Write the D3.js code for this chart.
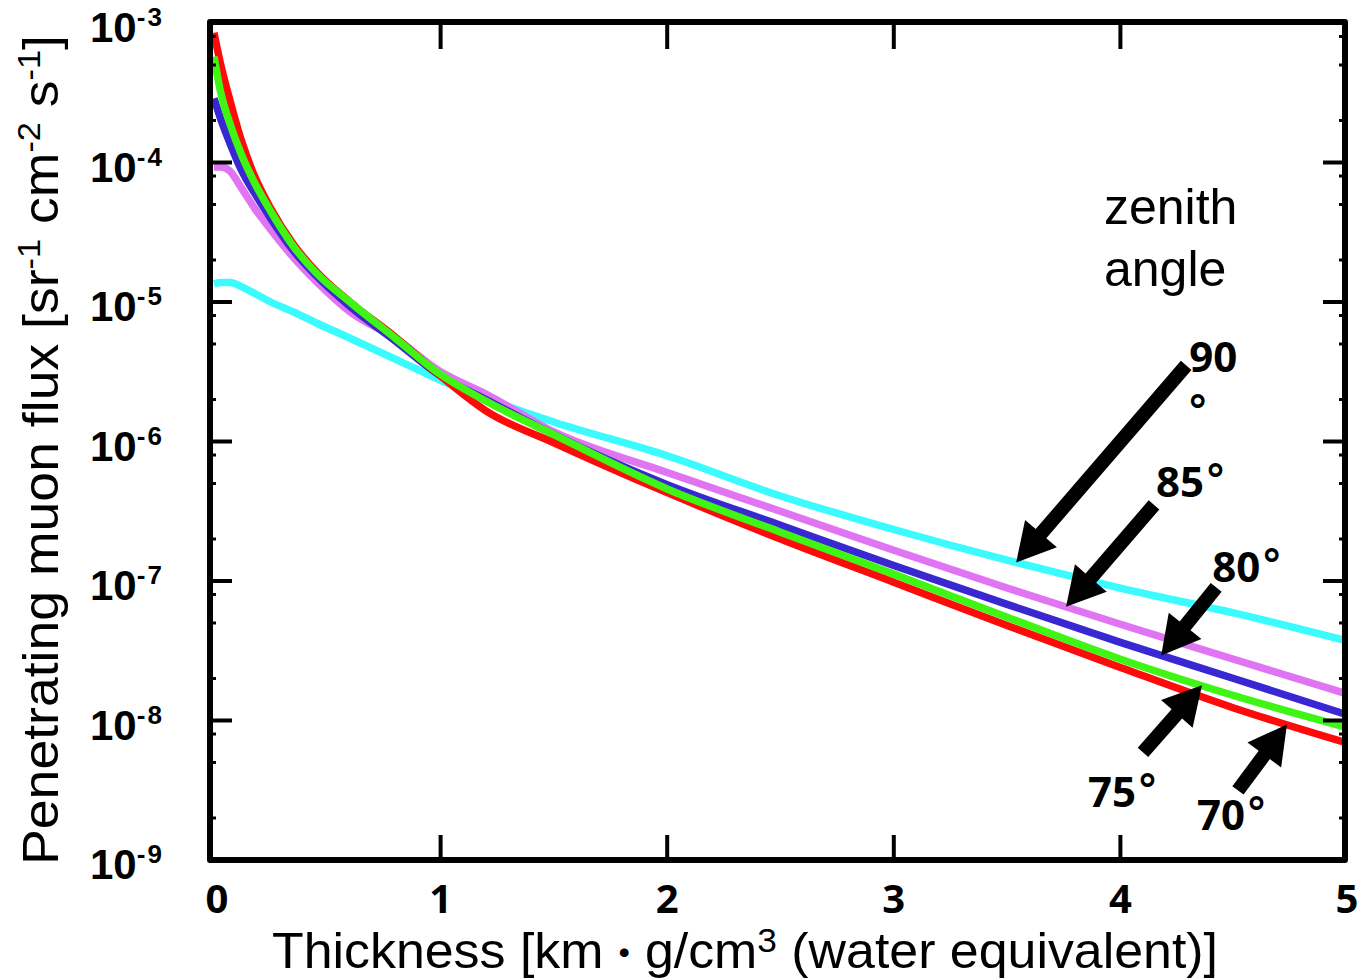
<!DOCTYPE html>
<html>
<head>
<meta charset="utf-8">
<script src="https://cdn.jsdelivr.net/npm/d3@7"></script>
<style>
  body { margin: 0; background: #fff; }
  svg { display: block; }
</style>
</head>
<body>
<svg id="chart" width="1367" height="980"></svg>
<script>
// Rock thickness (km water equivalent) at which each flux curve is sampled
const thickness = [0, 0.03, 0.07, 0.12, 0.18, 0.25, 0.35, 0.45, 0.6, 0.8, 1.0, 1.2, 1.5, 2.0, 2.5, 3.0, 3.5, 4.0, 4.5, 5.0];

// Penetrating muon flux [sr^-1 cm^-2 s^-1] for each zenith angle
const flux70 = [8.5e-4, 5.0e-4, 2.8e-4, 1.45e-4, 7.9e-5, 4.7e-5, 2.6e-5, 1.66e-5, 1.0e-5, 5.6e-6, 2.95e-6, 1.66e-6, 9.8e-7, 4.3e-7, 2.0e-7, 9.8e-8, 4.8e-8, 2.4e-8, 1.23e-8, 6.9e-9];
const flux75 = [5.75e-4, 3.16e-4, 1.91e-4, 1.15e-4, 7.1e-5, 4.47e-5, 2.51e-5, 1.62e-5, 1.0e-5, 5.5e-6, 3.02e-6, 1.95e-6, 1.12e-6, 4.57e-7, 2.24e-7, 1.12e-7, 5.5e-8, 2.75e-8, 1.51e-8, 8.9e-9];
const flux80 = [2.88e-4, 2.04e-4, 1.38e-4, 8.9e-5, 6.0e-5, 3.98e-5, 2.34e-5, 1.55e-5, 9.3e-6, 5.25e-6, 2.95e-6, 2.0e-6, 1.12e-6, 4.9e-7, 2.51e-7, 1.29e-7, 6.8e-8, 3.63e-8, 2.0e-8, 1.10e-8];
const flux85 = [9.3e-5, 9.3e-5, 8.7e-5, 6.6e-5, 4.68e-5, 3.31e-5, 2.09e-5, 1.41e-5, 8.5e-6, 5.5e-6, 3.16e-6, 2.19e-6, 1.17e-6, 6.0e-7, 3.16e-7, 1.66e-7, 8.9e-8, 4.9e-8, 2.75e-8, 1.55e-8];
const flux90 = [1.35e-5, 1.38e-5, 1.38e-5, 1.29e-5, 1.15e-5, 1.0e-5, 8.5e-6, 7.1e-6, 5.5e-6, 3.9e-6, 2.75e-6, 2.04e-6, 1.38e-6, 7.9e-7, 4.07e-7, 2.34e-7, 1.41e-7, 8.9e-8, 5.9e-8, 3.72e-8];

// Axis ticks
const xTicks = [0, 1, 2, 3, 4, 5];
const yTickExponents = [-3, -4, -5, -6, -7, -8, -9];
const yMinorMultipliers = [2, 5, 8];

// Curves in drawing order (back to front)
const curves = [
  { angle: 90, values: flux90, color: "#3cfbff" },
  { angle: 85, values: flux85, color: "#e074f2" },
  { angle: 80, values: flux80, color: "#3927d2" },
  { angle: 70, values: flux70, color: "#ff0a0a" },
  { angle: 75, values: flux75, color: "#3ff514" }
];

// Angle callouts: arrow tip sits on the curve at tipX; tail and label are offsets from the tip
const callouts = [
  { angle: 90, values: flux90, tipX: 3.54, tail: [170, -197], label: "90", labelAt: [173, -190], degreeAt: [171, -136] },
  { angle: 85, values: flux85, tipX: 3.76, tail: [88, -102], label: "85", labelAt: [90, -110] },
  { angle: 80, values: flux80, tipX: 4.18, tail: [55, -68], label: "80", labelAt: [51, -73] },
  { angle: 75, values: flux75, tipX: 4.36, tail: [-59, 67], label: "75", labelAt: [-114, 122] },
  { angle: 70, values: flux70, tipX: 4.735, tail: [-49, 66], label: "70", labelAt: [-90, 106] }
];

const svg = d3.select("#chart");
const plot = { left: 210, right: 1345, top: 22, bottom: 860 };

const x = d3.scaleLinear().domain([0, 5]).range([plot.left + 4, plot.right + 2]);
const y = d3.scaleLog().domain([1e-9, 1e-3]).range([plot.bottom, plot.top + 1]);

// ----- curves -----
svg.append("defs").append("clipPath").attr("id", "plot-clip")
  .append("rect").attr("x", plot.left).attr("y", plot.top)
  .attr("width", plot.right - plot.left).attr("height", plot.bottom - plot.top);

const line = d3.line()
  .x((d, i) => x(thickness[i]))
  .y(d => y(d))
  .curve(d3.curveMonotoneX);

const curveLayer = svg.append("g").attr("clip-path", "url(#plot-clip)");
curveLayer.selectAll("path.curve")
  .data(curves)
  .join("path")
  .attr("class", "curve")
  .attr("d", d => line(d.values))
  .attr("fill", "none")
  .attr("stroke", d => d.color)
  .attr("stroke-width", 7.5)
  .attr("stroke-linejoin", "round");

// ----- frame and ticks -----
const axisG = svg.append("g").attr("stroke", "#000").attr("fill", "none");
axisG.append("rect")
  .attr("x", plot.left).attr("y", plot.top)
  .attr("width", plot.right - plot.left).attr("height", plot.bottom - plot.top)
  .attr("stroke-width", 6).attr("stroke-linejoin", "round");

const majorY = yTickExponents.map(e => Math.pow(10, e));
const minorY = [];
yTickExponents.forEach(e => {
  yMinorMultipliers.forEach(m => {
    const v = m * Math.pow(10, e);
    if (v < 1e-3 && v > 1e-9) minorY.push(v);
  });
});

majorY.forEach(v => {
  axisG.append("line").attr("x1", plot.left).attr("x2", plot.left + 22)
    .attr("y1", y(v)).attr("y2", y(v)).attr("stroke-width", 4);
  axisG.append("line").attr("x1", plot.right).attr("x2", plot.right - 22)
    .attr("y1", y(v)).attr("y2", y(v)).attr("stroke-width", 4);
});
minorY.forEach(v => {
  axisG.append("line").attr("x1", plot.left).attr("x2", plot.left + 6)
    .attr("y1", y(v)).attr("y2", y(v)).attr("stroke-width", 3);
  axisG.append("line").attr("x1", plot.right).attr("x2", plot.right - 6)
    .attr("y1", y(v)).attr("y2", y(v)).attr("stroke-width", 3);
});
xTicks.filter(t => t > 0 && t < 5).forEach(t => {
  axisG.append("line").attr("x1", x(t)).attr("x2", x(t))
    .attr("y1", plot.bottom).attr("y2", plot.bottom - 25).attr("stroke-width", 4);
  axisG.append("line").attr("x1", x(t)).attr("x2", x(t))
    .attr("y1", plot.top).attr("y2", plot.top + 27).attr("stroke-width", 4);
});

// ----- tick labels -----
const yLabels = svg.append("g")
  .attr("font-family", "'Liberation Sans', Arial, sans-serif")
  .attr("font-weight", "bold").attr("fill", "#000");
yTickExponents.forEach(e => {
  const t = yLabels.append("text")
    .attr("x", 90).attr("y", y(Math.pow(10, e)) + 19)
    .attr("font-size", 42);
  t.append("tspan").text("10");
  t.append("tspan").attr("dy", -16).attr("font-size", 26)
    .attr("letter-spacing", 2).text(String(e));
});

svg.append("g")
  .attr("font-family", "'Open Sans', sans-serif")
  .attr("font-weight", "bold").attr("font-size", 40).attr("fill", "#000")
  .attr("text-anchor", "middle")
  .selectAll("text").data(xTicks).join("text")
  .attr("x", d => x(d) + (d === 0 ? 3 : 0))
  .attr("y", 913)
  .text(d => d);

// ----- axis titles -----
function squeeze(textSel, width) {
  const w = textSel.node().getBBox().width;
  textSel.attr("transform", `scale(${width / w},1)`);
}

const xTitleG = svg.append("g").attr("transform", "translate(745,968)");
const xTitle = xTitleG.append("text")
  .attr("text-anchor", "middle")
  .attr("font-family", "'Liberation Sans', Arial, 'Noto Sans CJK JP', sans-serif")
  .attr("font-size", 50).attr("fill", "#000");
xTitle.append("tspan").text("Thickness [km");
xTitle.append("tspan").attr("font-family", "'Noto Sans CJK JP', sans-serif").attr("font-size", 40).text("・");
xTitle.append("tspan").text("g/cm");
xTitle.append("tspan").attr("dy", -16).attr("font-size", 34).text("3");
xTitle.append("tspan").attr("dy", 16).text(" (water equivalent)]");
squeeze(xTitle, 946);

const yTitleG = svg.append("g").attr("transform", "translate(58,450) rotate(-90)");
const yTitle = yTitleG.append("text")
  .attr("text-anchor", "middle")
  .attr("font-family", "'Liberation Sans', Arial, sans-serif")
  .attr("font-size", 50).attr("fill", "#000");
yTitle.append("tspan").text("Penetrating muon flux [sr");
yTitle.append("tspan").attr("dy", -18).attr("font-size", 32).text("-1");
yTitle.append("tspan").attr("dy", 18).text(" cm");
yTitle.append("tspan").attr("dy", -18).attr("font-size", 32).text("-2");
yTitle.append("tspan").attr("dy", 18).text(" s");
yTitle.append("tspan").attr("dy", -18).attr("font-size", 32).text("-1");
yTitle.append("tspan").attr("dy", 18).text("]");
squeeze(yTitle, 830);

// ----- legend heading -----
const heading = svg.append("text")
  .attr("font-family", "'Liberation Sans', Arial, sans-serif")
  .attr("font-size", 50).attr("fill", "#000");
heading.append("tspan").attr("x", 1104).attr("y", 224).text("zenith");
heading.append("tspan").attr("x", 1104).attr("y", 286).text("angle");

// ----- angle callouts -----
function fluxAt(values, t) {
  const i = Math.max(0, Math.min(thickness.length - 2, d3.bisectRight(thickness, t) - 1));
  const f = (t - thickness[i]) / (thickness[i + 1] - thickness[i]);
  const a = Math.log10(values[i]), b = Math.log10(values[i + 1]);
  return Math.pow(10, a + f * (b - a));
}

function arrowPoints(tip, tail) {
  const dx = tip[0] - tail[0], dy = tip[1] - tail[1];
  const len = Math.hypot(dx, dy);
  const ux = dx / len, uy = dy / len;
  const nx = -uy, ny = ux;
  const headLen = 38, shaft = 7, head = 21;
  const bx = tip[0] - ux * headLen, by = tip[1] - uy * headLen;
  return [
    [tail[0] + nx * shaft, tail[1] + ny * shaft],
    [bx + nx * shaft, by + ny * shaft],
    [bx + nx * head, by + ny * head],
    tip,
    [bx - nx * head, by - ny * head],
    [bx - nx * shaft, by - ny * shaft],
    [tail[0] - nx * shaft, tail[1] - ny * shaft]
  ];
}

const degreeFont = "'DejaVu Sans', sans-serif";
const calloutG = svg.append("g");
callouts.forEach(c => {
  const tip = [x(c.tipX), y(fluxAt(c.values, c.tipX))];
  const tail = [tip[0] + c.tail[0], tip[1] + c.tail[1]];
  calloutG.append("polygon")
    .attr("points", arrowPoints(tip, tail).map(p => p.join(",")).join(" "))
    .attr("fill", "#000");
  const t = calloutG.append("text")
    .attr("x", tip[0] + c.labelAt[0]).attr("y", tip[1] + c.labelAt[1])
    .attr("font-family", "'Open Sans', sans-serif").attr("font-weight", "bold")
    .attr("font-size", 42).attr("fill", "#000");
  t.append("tspan").text(c.label);
  if (!c.degreeAt) {
    t.append("tspan").attr("font-family", degreeFont).attr("font-weight", "bold")
      .attr("font-size", 42).attr("dx", 1).attr("dy", -2).text("°");
  } else {
    calloutG.append("text")
      .attr("x", tip[0] + c.degreeAt[0]).attr("y", tip[1] + c.degreeAt[1])
      .attr("font-family", degreeFont).attr("font-weight", "bold")
      .attr("font-size", 42).attr("fill", "#000")
      .text("°");
  }
});
</script>
</body>
</html>
